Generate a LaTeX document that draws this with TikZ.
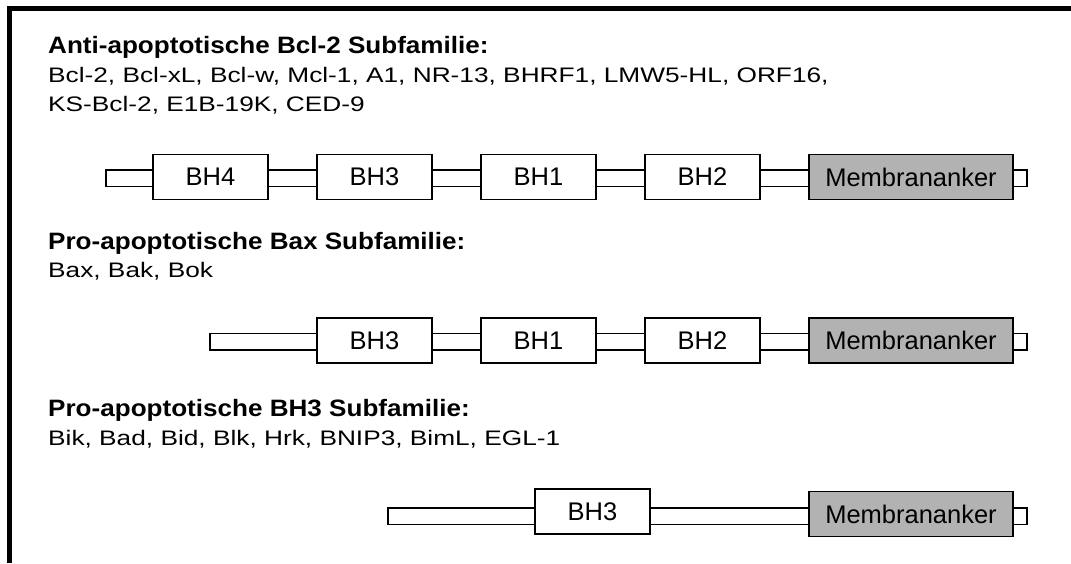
\documentclass[tikz,border=0pt]{standalone}
\usepackage{fontspec}
\setmainfont{Liberation Sans}
\newfontfamily\titelfam[FakeStretch=1.1]{Liberation Sans}
\newfontfamily\listefam[FakeStretch=1.25]{Liberation Sans}
\newcommand\titelfont{\titelfam\bfseries\fontsize{23.7}{28}\selectfont}
\newcommand\listefont{\listefam\fontsize{21}{28}\selectfont}
\newcommand\domfont{\fontsize{25.5}{30}\selectfont}
\usetikzlibrary{positioning}
\begin{document}
\begin{tikzpicture}[x=1pt,y=-1pt,line join=miter,
	titel/.style={anchor=base west,inner sep=0pt,font=\titelfont},
	liste/.style={anchor=base west,inner sep=0pt,font=\listefont},
	dom/.style={draw,line width=1.6pt,fill=white,minimum width=115pt,minimum height=45pt,inner sep=0pt,outer sep=0pt,font=\domfont},
	anker/.style={dom,fill=black!30,minimum width=204pt},
	band/.style={draw,line width=1.6pt,fill=white}]
	\useasboundingbox (0,0) rectangle (1071,563);
	\draw[line width=5pt] (9.2,563)--(9.2,8.5)--(1071,8.5);
	% Anti-apoptotische Bcl-2 Subfamilie
	\node[titel] (t1) at (48,53) {Anti-apoptotische Bcl-2 Subfamilie:};
	\node[liste] (l1a) at (48,82) {Bcl-2, Bcl-xL, Bcl-w, Mcl-1, A1, NR-13, BHRF1, LMW5-HL, ORF16,};
	\node[liste] (l1b) at (48,111) {KS-Bcl-2, E1B-19K, CED-9};
	\coordinate (a1) at (106,170); \coordinate (e1) at (1027,186.5);
	\draw[band] (a1) rectangle (e1);
	\node[anker] (m1) at (911,177) {Membrananker};
	\node[dom,left=49pt of m1] (bh2a) {BH2};
	\node[dom,left=49pt of bh2a] (bh1a) {BH1};
	\node[dom,left=49pt of bh1a] (bh3a) {BH3};
	\node[dom,left=49pt of bh3a] (bh4a) {BH4};
	% Pro-apoptotische Bax Subfamilie
	\node[titel] (t2) at (48,249) {Pro-apoptotische Bax Subfamilie:};
	\node[liste] (l2) at (48,277) {Bax, Bak, Bok};
	\coordinate (a2) at (210,333.3); \coordinate (e2) at (1027,350);
	\draw[band] (a2) rectangle (e2);
	\node[anker] (m2) at (911,340.5) {Membrananker};
	\node[dom,left=49pt of m2] (bh2b) {BH2};
	\node[dom,left=49pt of bh2b] (bh1b) {BH1};
	\node[dom,left=49pt of bh1b] (bh3b) {BH3};
	% Pro-apoptotische BH3 Subfamilie
	\node[titel] (t3) at (48,416) {Pro-apoptotische BH3 Subfamilie:};
	\node[liste] (l3) at (48,445) {Bik, Bad, Bid, Blk, Hrk, BNIP3, BimL, EGL-1};
	\coordinate (a3) at (388,508); \coordinate (e3) at (1027,524.5);
	\draw[band] (a3) rectangle (e3);
	\node[anker] (m3) at (911,514) {Membrananker};
	\node[dom,left=159pt of m3,yshift=2.5pt] (bh3c) {BH3};
\end{tikzpicture}
\end{document}
